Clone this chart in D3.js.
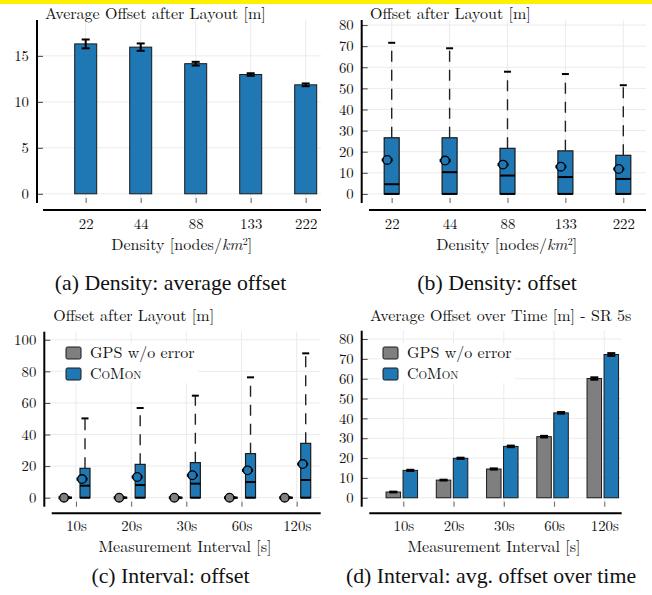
<!DOCTYPE html>
<html><head><meta charset="utf-8">
<script src="https://cdn.jsdelivr.net/npm/d3@7"></script>
<style>
body{margin:0;background:#fff;}
svg{display:block;}
</style></head><body>
<svg id="c" width="652" height="595"></svg>
<script>
// ---------- DATA ----------
const densityLabels = ["22", "44", "88", "133", "222"];
const avgOffset = [16.3, 15.95, 14.15, 12.97, 11.85];
const avgOffsetErr = [0.48, 0.4, 0.2, 0.14, 0.15];

const densityQ1 = [0, 0, 0, 0, 0];
const densityQ3 = [26.6, 26.6, 21.6, 20.4, 18.3];
const densityMedian = [4.6, 10.3, 8.7, 8.0, 7.1];
const densityMean = [16.1, 15.8, 13.9, 12.9, 11.8];
const densityWhiskerLow = [0, 0, 0, 0, 0];
const densityWhiskerHigh = [71.6, 69.0, 57.9, 56.8, 51.5];

const intervalLabels = ["10s", "20s", "30s", "60s", "120s"];
const seriesNames = ["GPS w/o error", "CoMon"];

const gpsQ1 = [0, 0, 0, 0, 0];
const gpsQ3 = [0, 0, 0, 0, 0];
const gpsMedian = [0, 0, 0, 0, 0];
const gpsMean = [0, 0, 0, 0, 0];
const gpsWhiskerLow = [0, 0, 0, 0, 0];
const gpsWhiskerHigh = [0, 0, 0, 0, 0];

const comonQ1 = [0, 0, 0, 0, 0];
const comonQ3 = [18.6, 21.1, 22.2, 27.9, 34.4];
const comonMedian = [7.6, 8.0, 8.9, 9.9, 11.2];
const comonMean = [11.8, 13.1, 14.2, 17.3, 21.3];
const comonWhiskerLow = [0, 0, 0, 0, 0];
const comonWhiskerHigh = [50.2, 56.8, 64.6, 76.2, 91.4];

const gpsAvgOverTime = [2.9, 8.9, 14.5, 30.8, 60.1];
const gpsAvgOverTimeErr = [0.2, 0.2, 0.3, 0.4, 0.6];
const comonAvgOverTime = [13.8, 19.9, 25.9, 42.8, 72.2];
const comonAvgOverTimeErr = [0.3, 0.3, 0.4, 0.4, 0.7];

const ticksA = [0, 5, 10, 15];
const ticksB = [0, 10, 20, 30, 40, 50, 60, 70, 80];
const ticksC = [0, 20, 40, 60, 80, 100];
const ticksD = [0, 10, 20, 30, 40, 50, 60, 70, 80];

const captions = ["(a) Density: average offset", "(b) Density: offset", "(c) Interval: offset", "(d) Interval: avg. offset over time"];

// ---------- STYLE ----------
const FONT = "'Latin Modern Roman','Liberation Serif',serif";
const CAP_FONT = "'Liberation Serif'";
const BLUE = "#1f77b4", GRAY = "#7f7f7f", EDGE = "#1a1a1a", GRID = "#ebebeb";
const TICK_FS = 14.8, LABEL_FS = 16, LEGEND_FS = 16, CAP_FS = 21.8;

const svg = d3.select("#c");
svg.append("rect").attr("x", 0).attr("y", 0).attr("width", 652).attr("height", 4).attr("fill", "#fff000");

function txt(sel, size, font) {
  return sel.style("font-family", font || FONT).style("font-size", size + "px").attr("fill", "#111");
}

function panel(o) {
  const g = svg.append("g");
  const x = d3.scalePoint().domain(o.cats).range([o.catX0, o.catX1]);
  const y = d3.scaleLinear().domain(o.yDomain).range([o.bottom, o.top]);
  g.append("g").selectAll("line").data(o.yTicks).join("line")
    .attr("x1", o.yAxisX).attr("x2", o.right).attr("y1", d => y(d)).attr("y2", d => y(d))
    .attr("stroke", GRID).attr("stroke-width", 1);
  g.append("g").selectAll("line").data(o.cats).join("line")
    .attr("x1", d => x(d)).attr("x2", d => x(d)).attr("y1", o.top).attr("y2", o.bottom)
    .attr("stroke", GRID).attr("stroke-width", 1);
  const ya = g.append("g").attr("transform", `translate(${o.yAxisX},0)`)
    .call(d3.axisLeft(y).tickValues(o.yTicks).tickSizeInner(-6).tickSizeOuter(0).tickPadding(8));
  ya.select(".domain").remove();
  ya.selectAll(".tick line").attr("stroke", "#444").attr("stroke-width", 1);
  txt(ya.selectAll(".tick text"), TICK_FS);
  g.append("line").attr("x1", o.yAxisX).attr("x2", o.yAxisX).attr("y1", o.top).attr("y2", o.bottom)
    .attr("stroke", "#000").attr("stroke-width", 2);
  const xa = g.append("g").attr("transform", `translate(0,${o.bottom})`)
    .call(d3.axisBottom(x).tickSizeInner(-5).tickSizeOuter(0).tickPadding(0));
  xa.select(".domain").remove();
  xa.selectAll(".tick line").attr("stroke", "#666").attr("stroke-width", 1);
  txt(xa.selectAll(".tick text"), TICK_FS).attr("y", o.tickBaseline - o.bottom).attr("dy", null);
  g.append("line").attr("x1", o.xAxisX0).attr("x2", o.right).attr("y1", o.xAxisY).attr("y2", o.xAxisY)
    .attr("stroke", "#000").attr("stroke-width", 2);
  txt(g.append("text"), LABEL_FS).attr("x", o.titleX).attr("y", o.titleY).text(o.title);
  const xl = txt(g.append("text"), LABEL_FS).attr("x", o.xlabelX).attr("y", o.xlabelY).attr("text-anchor", "middle");
  if (o.xlabelKm) {
    xl.append("tspan").text("Density [nodes/");
    xl.append("tspan").style("font-style", "italic").text("km");
    xl.append("tspan").attr("dy", -5).style("font-size", "10.5px").text("2");
    xl.append("tspan").attr("dy", 5).text("]");
  } else xl.text(o.xlabel);
  return {g, x, y};
}

function errorBar(g, cx, y, v, e, capW) {
  g.append("line").attr("x1", cx).attr("x2", cx).attr("y1", y(v - e)).attr("y2", y(v + e))
    .attr("stroke", "#000").attr("stroke-width", 2);
  [v - e, v + e].forEach(t => g.append("line").attr("x1", cx - capW / 2).attr("x2", cx + capW / 2)
    .attr("y1", y(t)).attr("y2", y(t)).attr("stroke", "#000").attr("stroke-width", 2));
}

function bars(p, vals, errs, offset, w, fill) {
  const {g, x, y} = p;
  const cats = x.domain();
  g.append("g").selectAll("rect").data(vals).join("rect")
    .attr("x", (d, i) => x(cats[i]) + offset - w / 2).attr("width", w)
    .attr("y", d => y(d)).attr("height", d => y(0) - y(d))
    .attr("fill", fill).attr("stroke", EDGE).attr("stroke-width", 1);
  vals.forEach((v, i) => errorBar(g, x(cats[i]) + offset, y, v, errs[i], 8));
}

function boxes(p, q1, q3, med, mean, wLo, wHi, offset, w, fill) {
  const {g, x, y} = p;
  const cats = x.domain();
  cats.forEach((c, i) => {
    const cx = x(c) + offset;
    g.append("line").attr("x1", cx).attr("x2", cx).attr("y1", y(q3[i])).attr("y2", y(wHi[i]))
      .attr("stroke", "#222").attr("stroke-width", 1.4).attr("stroke-dasharray", "11,8");
    g.append("line").attr("x1", cx).attr("x2", cx).attr("y1", y(q1[i])).attr("y2", y(wLo[i]))
      .attr("stroke", "#222").attr("stroke-width", 1.4).attr("stroke-dasharray", "11,8");
    g.append("line").attr("x1", cx - 3.5).attr("x2", cx + 3.5).attr("y1", y(wHi[i])).attr("y2", y(wHi[i]))
      .attr("stroke", "#000").attr("stroke-width", 2);
    g.append("rect").attr("x", cx - w / 2).attr("width", w).attr("y", y(q3[i])).attr("height", y(q1[i]) - y(q3[i]))
      .attr("fill", fill).attr("stroke", EDGE).attr("stroke-width", 1.2);
    g.append("line").attr("x1", cx - w / 2).attr("x2", cx + w / 2).attr("y1", y(med[i])).attr("y2", y(med[i]))
      .attr("stroke", "#000").attr("stroke-width", 2);
    g.append("line").attr("x1", cx - w / 2).attr("x2", cx + w / 2).attr("y1", y(wLo[i])).attr("y2", y(wLo[i]))
      .attr("stroke", "#000").attr("stroke-width", 2);
    const mx = cx - w * 0.3;
    g.append("line").attr("x1", mx - 5.5).attr("x2", mx + 5.5).attr("y1", y(mean[i])).attr("y2", y(mean[i]))
      .attr("stroke", "#000").attr("stroke-width", 3);
    g.append("circle").attr("cx", mx).attr("cy", y(mean[i])).attr("r", 4.3)
      .attr("fill", fill).attr("stroke", "#000").attr("stroke-width", 1.3);
  });
}

function legend(g, x0, y0, names, colors) {
  const lg = g.append("g");
  lg.append("rect").attr("x", x0 - 3).attr("y", y0 - 4).attr("width", 135).attr("height", 40).attr("fill", "#fff");
  names.forEach((n, i) => {
    const yy = y0 + i * 21;
    lg.append("rect").attr("x", x0).attr("y", yy).attr("width", 15).attr("height", 12).attr("rx", 1.5)
      .attr("fill", colors[i]).attr("stroke", EDGE).attr("stroke-width", 1);
    const t = txt(lg.append("text"), LEGEND_FS).attr("x", x0 + 24).attr("y", yy + 11).text(n);
    if (n === "CoMon") t.style("font-variant", "small-caps");
  });
}

// (a)
const pA = panel({cats: densityLabels, catX0: 85.7, catX1: 305.7, right: 321, top: 20, bottom: 203,
  yAxisX: 37, xAxisY: 210, xAxisX0: 43, yDomain: [-1, 18.9], yTicks: ticksA, tickBaseline: 229,
  title: "Average Offset after Layout [m]", titleX: 45, titleY: 18.5, xlabelKm: true, xlabelX: 181.7, xlabelY: 250});
bars(pA, avgOffset, avgOffsetErr, 0, 22, BLUE);

// (b)
const pB = panel({cats: densityLabels, catX0: 391.7, catX1: 623.3, right: 646, top: 20, bottom: 203,
  yAxisX: 361.7, xAxisY: 210, xAxisX0: 369, yDomain: [-4.3, 82.4], yTicks: ticksB, tickBaseline: 229,
  title: "Offset after Layout [m]", titleX: 370, titleY: 18.5, xlabelKm: true, xlabelX: 506.7, xlabelY: 250});
boxes(pB, densityQ1, densityQ3, densityMedian, densityMean, densityWhiskerLow, densityWhiskerHigh, 0, 15, BLUE);

// (c)
const pC = panel({cats: intervalLabels, catX0: 76, catX1: 296.7, right: 320.7, top: 331.7, bottom: 506.7,
  yAxisX: 44.3, xAxisY: 513.3, xAxisX0: 51.7, yDomain: [-5.7, 105.1], yTicks: ticksC, tickBaseline: 531.5,
  title: "Offset after Layout [m]", titleX: 53.3, titleY: 321, xlabel: "Measurement Interval [s]", xlabelX: 185, xlabelY: 551.5});
boxes(pC, gpsQ1, gpsQ3, gpsMedian, gpsMean, gpsWhiskerLow, gpsWhiskerHigh, -9, 10, GRAY);
boxes(pC, comonQ1, comonQ3, comonMedian, comonMean, comonWhiskerLow, comonWhiskerHigh, 9, 10, BLUE);
legend(pC.g, 66, 347, seriesNames, [GRAY, BLUE]);

// (d)
const pD = panel({cats: intervalLabels, catX0: 403.3, catX1: 604.3, right: 621.7, top: 330.7, bottom: 506.7,
  yAxisX: 361.7, xAxisY: 513.3, xAxisX0: 369.3, yDomain: [-4.5, 84.2], yTicks: ticksD, tickBaseline: 531.5,
  title: "Average Offset over Time [m] - SR 5s", titleX: 370, titleY: 321, xlabel: "Measurement Interval [s]", xlabelX: 494, xlabelY: 551.5});
bars(pD, gpsAvgOverTime, gpsAvgOverTimeErr, -10, 14.5, GRAY);
bars(pD, comonAvgOverTime, comonAvgOverTimeErr, 7, 14.5, BLUE);
legend(pD.g, 383, 347, seriesNames, [GRAY, BLUE]);

// captions
const capPos = [[170.5, 290], [497, 290], [170.5, 583], [491, 583]];
captions.forEach((c, i) => txt(svg.append("text"), CAP_FS, CAP_FONT).attr("x", capPos[i][0]).attr("y", capPos[i][1])
  .attr("text-anchor", "middle").text(c));
</script>
</body></html>
